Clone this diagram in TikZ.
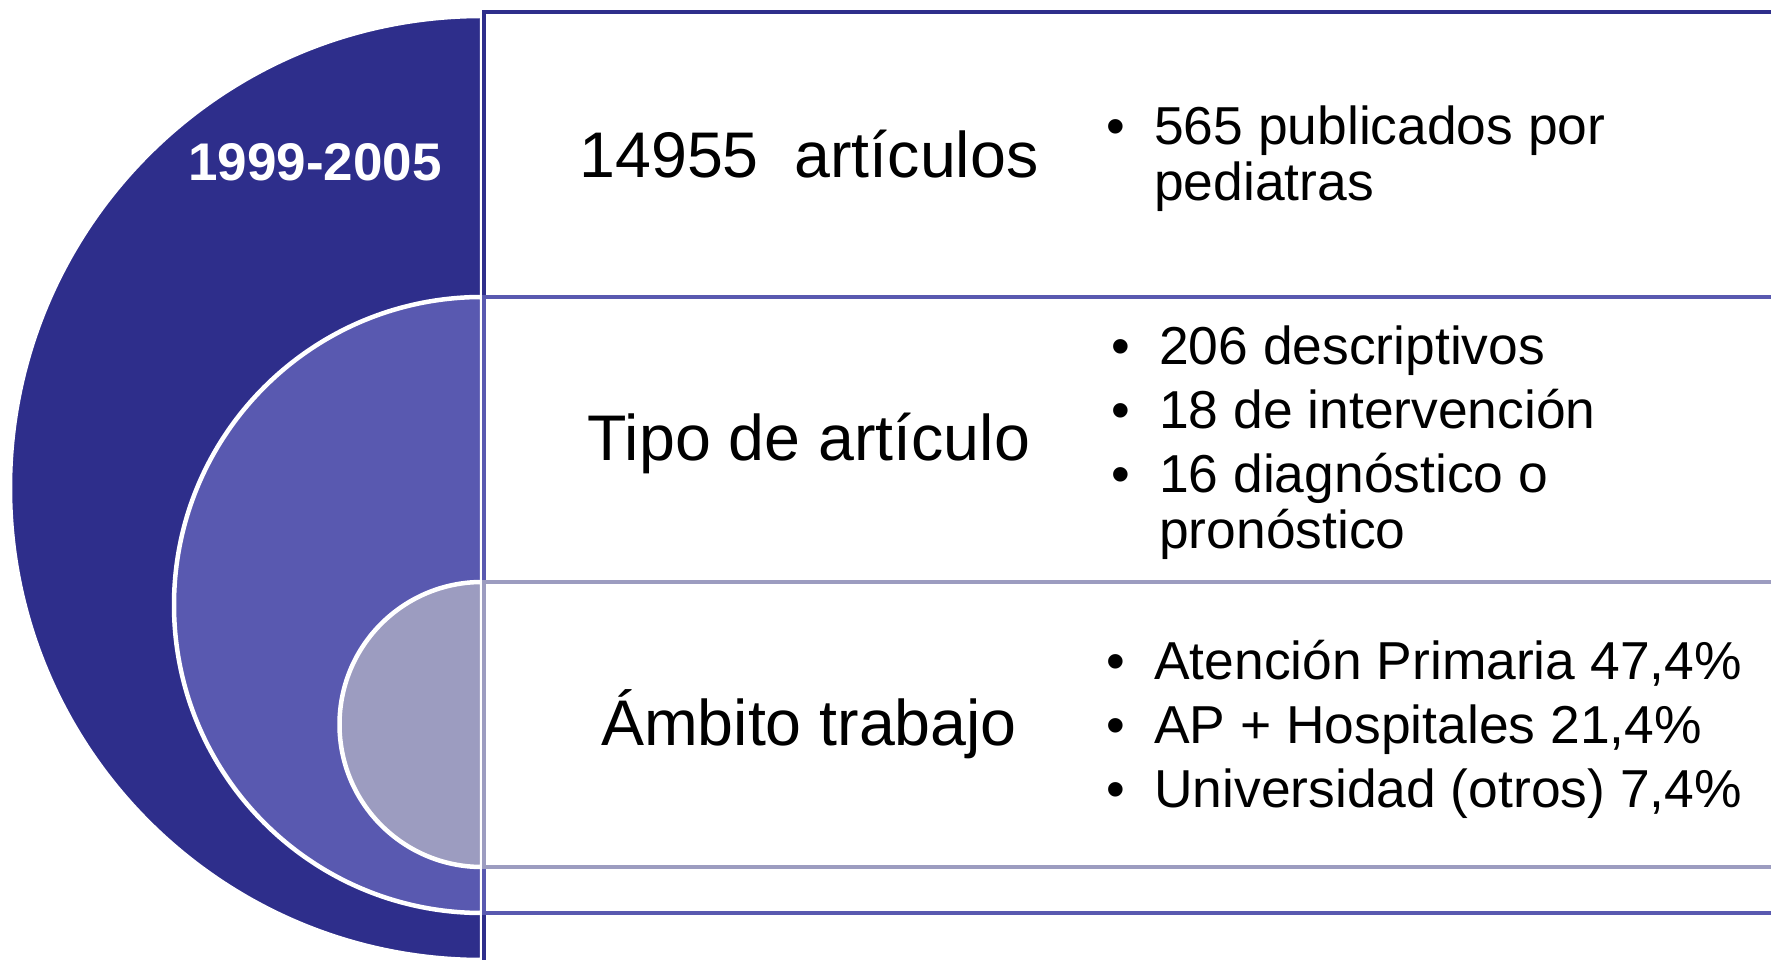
\documentclass[tikz,border=0pt]{standalone}
\usepackage{fontspec}
\setmainfont{Liberation Sans}
\definecolor{navy}{RGB}{46,46,139}
\definecolor{midblue}{RGB}{89,89,176}
\definecolor{lavgray}{RGB}{156,156,192}
\begin{document}
\begin{tikzpicture}[x=1pt,y=1pt,
  disc/.style={draw=white,line width=4.5pt},
  band/.style={fill=white,line width=4.8pt},
  big/.style={font=\fontsize{64.5}{64.5}\selectfont,anchor=base,inner sep=0pt,text=black},
  item/.style={font=\fontsize{53.4}{53.4}\selectfont,anchor=base west,inner sep=0pt,text=black},
  dot/.style={font=\fontsize{53.4}{53.4}\selectfont,anchor=base,inner sep=0pt,text=black},
  year/.style={font=\bfseries\fontsize{53}{53}\selectfont,anchor=base,inner sep=0pt,text=white}]
\useasboundingbox (0,0) rectangle (1771,959);
\clip (0,0) rectangle (1771,959);
% half discs
\coordinate (c1) at (482,471);
\coordinate (c2) at (482,354);
\coordinate (c3) at (482,234.5);
\draw[disc,fill=navy] (482,943) arc[start angle=90,end angle=270,radius=472] -- cycle;
\draw[disc,fill=midblue] (482,662) arc[start angle=90,end angle=270,radius=308] -- cycle;
\draw[disc,fill=lavgray] (482,377) arc[start angle=90,end angle=270,radius=142.5] -- cycle;
% bands
\draw[band,draw=navy] (484,947) rectangle (1800,-30);
\draw[band,draw=midblue] (484,662) rectangle (1800,46);
\draw[band,draw=lavgray] (484,377) rectangle (1800,92);
% texts
\node[year] (yr) at (315,778.5) {1999-2005};
\node[big] (t1) at (809,781.5) {14955\ \ artículos};
\node[big] (t2) at (809,498.5) {Tipo de artículo};
\node[big] (t3) at (809,213.5) {Ámbito trabajo};
% row 1
\node[dot] (b11) at (1116,814) {•};
\node[item] (i11) at (1154,814) {565 publicados por};
\node[item] (i12) at (1154,758) {pediatras};
% row 2
\node[dot] (b21) at (1121,594) {•};
\node[item] (i21) at (1159,594) {206 descriptivos};
\node[dot] (b22) at (1121,530) {•};
\node[item] (i22) at (1159,530) {18 de intervención};
\node[dot] (b23) at (1121,466) {•};
\node[item] (i23) at (1159,466) {16 diagnóstico o};
\node[item] (i24) at (1159,410) {pronóstico};
% row 3
\node[dot] (b31) at (1116,280) {•};
\node[item] (i31) at (1154,280) {Atención Primaria 47,4\%};
\node[dot] (b32) at (1116,216) {•};
\node[item] (i32) at (1154,216) {AP + Hospitales 21,4\%};
\node[dot] (b33) at (1116,152) {•};
\node[item] (i33) at (1154,152) {Universidad (otros) 7,4\%};
\end{tikzpicture}
\end{document}
